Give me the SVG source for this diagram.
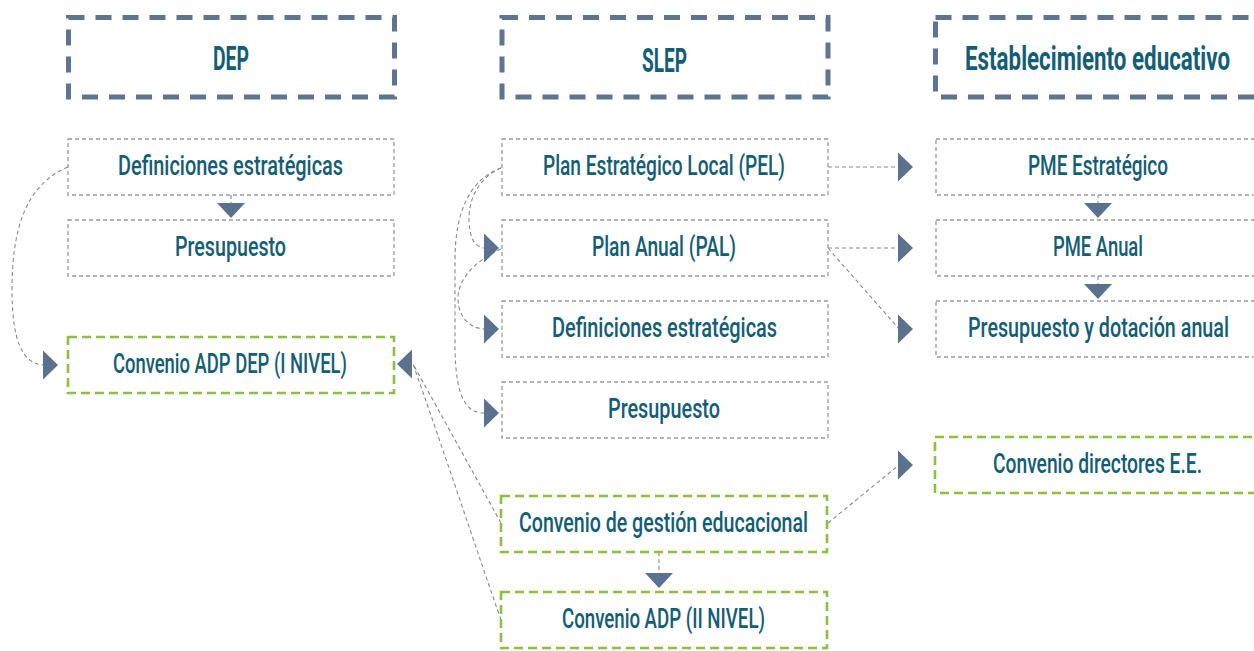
<svg xmlns="http://www.w3.org/2000/svg" xmlns:xlink="http://www.w3.org/1999/xlink" width="1254" height="651" viewBox="0 0 1254 651">
<style>
.hdr{fill:none;stroke:#5E7492;stroke-width:5;stroke-dasharray:16 11}
.box{fill:#fff;stroke:#9A9A9A;stroke-width:1.3;stroke-dasharray:4 3}
.gbox{fill:#fff;stroke:#8DC03F;stroke-width:2.6;stroke-dasharray:9 5}
.t{font-family:"Roboto","Liberation Sans",sans-serif;font-size:28px;font-weight:500;fill:#135E74;text-anchor:middle}
.h{font-family:"Roboto","Liberation Sans",sans-serif;font-size:33px;font-weight:bold;fill:#135E74;text-anchor:middle}
.c{fill:none;stroke:#8A8A8A;stroke-width:1.1;stroke-dasharray:4 3}
.a{fill:#5B7190}
</style>
<defs>
<path id="tr" d="M0,-14.5 L15,0 L0,14.5Z"/>
<path id="tl" d="M0,-14.5 L-15,0 L0,14.5Z"/>
<path id="td" d="M-14,0 L14,0 L0,15Z"/>
</defs>
<rect width="1254" height="651" fill="#fff"/>

<g id="connectors">
<path class="c" d="M68,167 C25,185 12,230 12,290 C12,340 22,364 44,365"/>
<path class="c" d="M501,168 C478,178 468,200 469,222 C470,240 476,247 484,248"/>
<path class="c" d="M501,168 C468,180 455,215 455,260 L455,350 C456,395 465,413 484,413"/>
<path class="c" d="M501,249 C472,262 457,282 458,300 C459,318 470,328 484,329"/>
<path class="c" d="M501,523 L413,364"/>
<path class="c" d="M501,620 C480,560 440,440 413,364"/>
<path class="c" d="M231,195 L231,203"/>
<path class="c" d="M828,167 L898,167"/>
<path class="c" d="M828,248 L898,248"/>
<path class="c" d="M828,248 L899,329"/>
<path class="c" d="M828,523 L899,465"/>
<path class="c" d="M659,552 L659,573"/>
<path class="c" d="M1098,194 L1098,203"/>
<path class="c" d="M1098,276 L1098,284"/>
<use href="#tr" class="a" x="43" y="365"/>
<use href="#tr" class="a" x="484" y="248"/>
<use href="#tr" class="a" x="484" y="329"/>
<use href="#tr" class="a" x="484" y="413"/>
<use href="#tr" class="a" x="898" y="167"/>
<use href="#tr" class="a" x="898" y="248"/>
<use href="#tr" class="a" x="898" y="329"/>
<use href="#tr" class="a" x="898" y="465"/>
<use href="#tl" class="a" x="412" y="364"/>
<use href="#td" class="a" x="231" y="203"/>
<use href="#td" class="a" x="1098" y="203"/>
<use href="#td" class="a" x="1098" y="284"/>
<use href="#td" class="a" x="659" y="573"/>
</g>

<g id="hdr-dep"><rect class="hdr" x="68.5" y="17.5" width="326" height="79.5"/><text class="h" x="231" y="70" textLength="36" lengthAdjust="spacingAndGlyphs">DEP</text></g>
<g id="hdr-slep"><rect class="hdr" x="502" y="17.5" width="326" height="79.5"/><text class="h" x="664.5" y="72" textLength="45" lengthAdjust="spacingAndGlyphs">SLEP</text></g>
<g id="hdr-ee"><rect class="hdr" x="935.5" y="17.5" width="322" height="79.5"/><text class="h" x="1097.5" y="70" textLength="265" lengthAdjust="spacingAndGlyphs">Establecimiento educativo</text></g>

<g id="dep-def"><rect class="box" x="68" y="139" width="326" height="56"/><text class="t" x="230.5" y="175" textLength="225" lengthAdjust="spacingAndGlyphs">Definiciones estratégicas</text></g>
<g id="dep-pres"><rect class="box" x="68" y="220" width="326" height="56"/><text class="t" x="230.5" y="256" textLength="111" lengthAdjust="spacingAndGlyphs">Presupuesto</text></g>
<g id="dep-conv"><rect class="gbox" x="68" y="337" width="326" height="56"/><text class="t" x="230" y="373" textLength="234" lengthAdjust="spacingAndGlyphs">Convenio ADP DEP (I NIVEL)</text></g>

<g id="slep-pel"><rect class="box" x="502" y="139" width="326" height="56"/><text class="t" x="664" y="175" textLength="242" lengthAdjust="spacingAndGlyphs">Plan Estratégico Local (PEL)</text></g>
<g id="slep-pal"><rect class="box" x="502" y="220" width="326" height="56"/><text class="t" x="664" y="256" textLength="144" lengthAdjust="spacingAndGlyphs">Plan Anual (PAL)</text></g>
<g id="slep-def"><rect class="box" x="502" y="301" width="326" height="56"/><text class="t" x="664.5" y="337" textLength="225" lengthAdjust="spacingAndGlyphs">Definiciones estratégicas</text></g>
<g id="slep-pres"><rect class="box" x="502" y="382" width="326" height="56"/><text class="t" x="664" y="418" textLength="112" lengthAdjust="spacingAndGlyphs">Presupuesto</text></g>
<g id="slep-cge"><rect class="gbox" x="501" y="496" width="326" height="56"/><text class="t" x="663.5" y="532" textLength="289" lengthAdjust="spacingAndGlyphs">Convenio de gestión educacional</text></g>
<g id="slep-adp"><rect class="gbox" x="501" y="592" width="326" height="56"/><text class="t" x="663.5" y="628" textLength="203" lengthAdjust="spacingAndGlyphs">Convenio ADP (II NIVEL)</text></g>

<g id="ee-pmee"><rect class="box" x="936" y="139" width="321" height="56"/><text class="t" x="1098" y="175" textLength="140" lengthAdjust="spacingAndGlyphs">PME Estratégico</text></g>
<g id="ee-pmea"><rect class="box" x="936" y="220" width="321" height="56"/><text class="t" x="1098" y="256" textLength="90" lengthAdjust="spacingAndGlyphs">PME Anual</text></g>
<g id="ee-pres"><rect class="box" x="936" y="301" width="321" height="56"/><text class="t" x="1098.5" y="337" textLength="261" lengthAdjust="spacingAndGlyphs">Presupuesto y dotación anual</text></g>
<g id="ee-conv"><rect class="gbox" x="935" y="437" width="322" height="56"/><text class="t" x="1097.5" y="473" textLength="209" lengthAdjust="spacingAndGlyphs">Convenio directores E.E.</text></g>
</svg>
